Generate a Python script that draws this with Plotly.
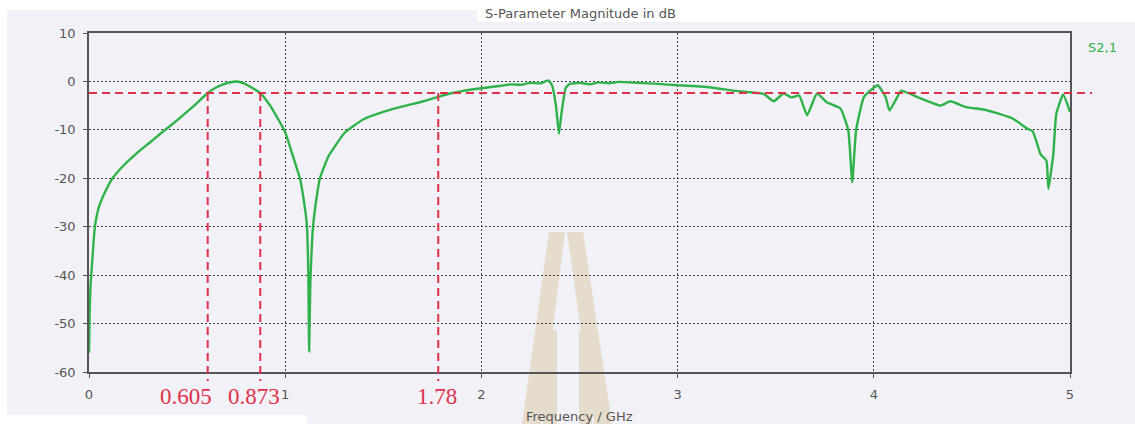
import plotly.graph_objects as go

# S21 magnitude of the filter, frequency in GHz
freq_ghz = [
    0.0, 0.003, 0.008, 0.015, 0.03, 0.05, 0.08, 0.12, 0.18, 0.25, 0.31, 0.37,
    0.45, 0.53, 0.605, 0.65, 0.70, 0.75, 0.79, 0.83, 0.873, 0.92, 0.96, 1.00,
    1.04, 1.075, 1.10, 1.111, 1.118, 1.122, 1.128, 1.142, 1.16, 1.177, 1.22,
    1.305, 1.40, 1.50, 1.585, 1.687, 1.78, 1.84, 1.90, 2.00, 2.10, 2.15, 2.20,
    2.25, 2.30, 2.34, 2.36, 2.38, 2.395, 2.41, 2.43, 2.45, 2.50, 2.55, 2.60,
    2.65, 2.70, 2.80, 2.90, 3.00, 3.10, 3.20, 3.28, 3.36, 3.44, 3.49, 3.54,
    3.58, 3.62, 3.66, 3.71, 3.76, 3.83, 3.87, 3.89, 3.91, 3.95, 4.02, 4.06,
    4.08, 4.12, 4.14, 4.22, 4.34, 4.39, 4.47, 4.56, 4.64, 4.71, 4.78, 4.81,
    4.85, 4.88, 4.89, 4.915, 4.93, 4.965, 5.0,
]
s21_db = [
    -56, -48, -42, -38, -30, -26, -23, -20, -17.2, -14.6, -12.6, -10.6,
    -8.0, -5.2, -2.4, -1.2, -0.4, 0.0, -0.4, -1.3, -2.4, -4.8, -7.5, -10.5,
    -15.5, -20, -26, -30, -40, -55.7, -42, -30, -24, -20, -15.5,
    -10.5, -7.8, -6.3, -5.3, -4.3, -3.2, -2.5, -2.0, -1.4, -0.9, -0.6, -0.7,
    -0.3, -0.4, 0.2, -0.8, -5.0, -10.8, -6.0, -1.3, -0.5, -0.3, -0.6, -0.2,
    -0.4, -0.1, -0.3, -0.5, -0.8, -1.0, -1.4, -1.9, -2.2, -2.6, -4.1, -2.5,
    -3.3, -2.9, -7.0, -2.5, -4.3, -5.6, -10.1, -20.8, -10.0, -3.2, -0.8, -3.2,
    -6.0, -3.2, -1.9, -3.2, -5.0, -4.1, -5.3, -5.8, -6.7, -7.7, -9.7, -10.3,
    -15.0, -16.4, -22.2, -15.0, -6.7, -2.7, -6.3,
]

# Cut-off markers
cutoff_ghz = [0.605, 0.873, 1.78]
cutoff_labels = ["0.605", "0.873", "1.78"]
cutoff_level_db = -2.4

x_ticks = [0, 1, 2, 3, 4, 5]
x_tick_text = ["0", "1", "2", "3", "4", "5"]
y_ticks = [10, 0, -10, -20, -30, -40, -50, -60]
y_tick_text = ["10", "0", "-10", "-20", "-30", "-40", "-50", "-60"]

# Layout geometry (pixels)
W, H = 1135, 424
L, R, T, B = 89, 1070, 33, 372
X_RANGE = [0, 5]
Y_RANGE = [-60, 10]

BG = "#f1f1f7"
GRID = "#444444"
AXIS = "#555555"
GREEN = "#2fb24a"
RED = "#e0304a"
TAN = "#e6dccb"


def px_x(px):
    return (px - L) / (R - L)


def px_y(py):
    return (B - py) / (B - T)


def y_to_paper(v):
    return (v - Y_RANGE[0]) / (Y_RANGE[1] - Y_RANGE[0])


def poly(points, color):
    d = "M " + " L ".join(f"{px_x(a):.5f},{px_y(b):.5f}" for a, b in points) + " Z"
    return dict(type="path", xref="paper", yref="paper", path=d,
                fillcolor=color, line=dict(width=0), layer="below")


shapes = []
# window background
shapes.append(poly([(7, 10), (477, 10), (477, 22), (1135, 22), (1135, 424),
                    (307, 424), (307, 415), (7, 415)], BG))
# faint emblem behind the plot
shapes.append(poly([(549, 232), (565, 232), (541, 424), (522, 424)], TAN))
shapes.append(poly([(567, 232), (583, 232), (612, 424), (594, 424)], TAN))
shapes.append(poly([(543, 330), (557, 330), (557, 424), (543, 424)], TAN))
shapes.append(poly([(579, 330), (592, 330), (592, 424), (579, 424)], TAN))

# -dB reference line, running a little past the right edge
shapes.append(dict(type="line", xref="paper", yref="y",
                   x0=0, x1=px_x(1092), y0=cutoff_level_db, y1=cutoff_level_db,
                   line=dict(color=RED, width=2, dash="8px,5px"), layer="above"))
# vertical cut-off lines, dropping just below the axis
for f in cutoff_ghz:
    shapes.append(dict(type="line", xref="x", yref="paper",
                       x0=f, x1=f, y0=y_to_paper(cutoff_level_db), y1=px_y(381),
                       line=dict(color=RED, width=2, dash="8px,5px"), layer="above"))

fig = go.Figure()
fig.add_trace(go.Scatter(
    x=freq_ghz, y=s21_db, mode="lines",
    line=dict(color=GREEN, width=2.4, shape="spline", smoothing=0.4),
    showlegend=False,
))


def label(text, cx, cy, font):
    return dict(text=text, xref="paper", yref="paper",
                x=px_x(cx), y=px_y(cy), xanchor="center", yanchor="middle",
                showarrow=False, font=font)


annotations = [
    label("S-Parameter Magnitude in dB", 580, 13,
          dict(family="DejaVu Sans", size=13, color="#555555")),
    label("Frequency / GHz", 579, 416,
          dict(family="DejaVu Sans", size=13, color="#555555")),
    label("S2,1", 1102, 48, dict(family="DejaVu Sans", size=13, color=GREEN)),
]
label_px = [186, 254, 437]
for lab, cx in zip(cutoff_labels, label_px):
    annotations.append(label(lab, cx, 396,
                             dict(family="Liberation Serif", size=23, color=RED)))

axis_common = dict(
    showline=True, linecolor=AXIS, linewidth=1.5, mirror=True,
    showgrid=True, gridcolor=GRID, gridwidth=1.4, griddash="2px,2px",
    zeroline=False, ticks="outside", ticklen=4, tickcolor=AXIS, tickwidth=1,
    tickfont=dict(family="DejaVu Sans", size=13, color="#555555"),
)

fig.update_layout(
    width=W, height=H,
    margin=dict(l=L, r=W - R, t=T, b=H - B, pad=0),
    paper_bgcolor="white",
    plot_bgcolor="rgba(0,0,0,0)",
    xaxis=dict(range=X_RANGE, tickvals=x_ticks, ticktext=x_tick_text,
               ticklabelstandoff=6, **axis_common),
    yaxis=dict(range=Y_RANGE, tickvals=y_ticks, ticktext=y_tick_text,
               ticklabelstandoff=5, **axis_common),
    shapes=shapes,
    annotations=annotations,
    showlegend=False,
)

fig.write_html("out.html")
